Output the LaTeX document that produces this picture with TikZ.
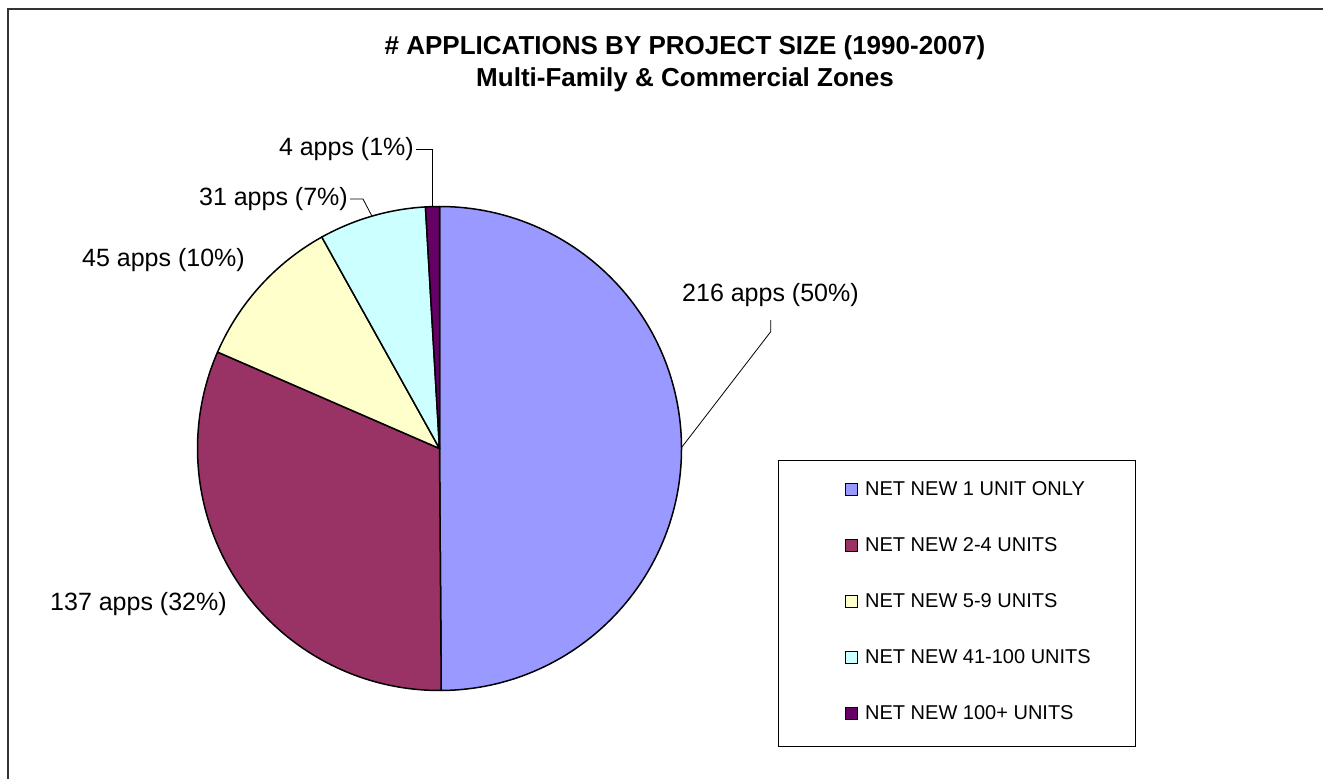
\documentclass[tikz,border=0pt]{standalone}
\usepackage{fontspec}
\setmainfont{Liberation Sans}
\definecolor{cA}{HTML}{9999FF}
\definecolor{cB}{HTML}{993366}
\definecolor{cC}{HTML}{FFFFCC}
\definecolor{cD}{HTML}{CCFFFF}
\definecolor{cE}{HTML}{660066}
\definecolor{frame}{HTML}{333333}
\tikzset{
  ttl/.style={font=\bfseries\fontsize{26}{30}\selectfont, inner sep=0pt},
  lbl/.style={font=\fontsize{25}{30}\selectfont, inner sep=0pt},
  leg/.style={font=\fontsize{20}{24}\selectfont, inner sep=0pt, anchor=west},
  sw/.style={draw=black, line width=1pt, minimum size=12pt, inner sep=0pt},
  slice/.style={draw=black, line width=1.5pt, line join=round},
  leader/.style={draw=black, line width=0.8pt},
}
\begin{document}
\begin{tikzpicture}[x=1pt,y=-1pt]
\useasboundingbox (0,0) rectangle (1323,779);
\fill[white] (0,0) rectangle (1323,779);
% outer chart frame (open to the right and bottom)
\draw[frame, line width=1.5pt] (8,779) -- (8,9) -- (1323,9);
% title
\node[ttl] (t1) at (685,48) {\# APPLICATIONS BY PROJECT SIZE (1990-2007)};
\node[ttl] (t2) at (685,80) {Multi-Family \& Commercial Zones};
% pie
\begin{scope}[shift={(439.5,448.5)}, yscale=-1]
  \draw[slice, fill=cA] (0,0) -- (90:242) arc[start angle=90, end angle=-89.584, radius=242] -- cycle;
  \draw[slice, fill=cB] (0,0) -- (-89.584:242) arc[start angle=-89.584, end angle=-203.487, radius=242] -- cycle;
  \draw[slice, fill=cC] (0,0) -- (-203.487:242) arc[start angle=-203.487, end angle=-240.900, radius=242] -- cycle;
  \draw[slice, fill=cD] (0,0) -- (-240.900:242) arc[start angle=-240.900, end angle=-266.674, radius=242] -- cycle;
  \draw[slice, fill=cE] (0,0) -- (-266.674:242) arc[start angle=-266.674, end angle=-270, radius=242] -- cycle;
  \coordinate (e1) at (0.208:242);
  \coordinate (e4) at (106.21:242);
  \coordinate (e5) at (91.663:242);
\end{scope}
% data labels
\node[lbl, anchor=west] (l1) at (682,295) {216 apps (50\%)};
\node[lbl, anchor=west] (l2) at (50,604) {137 apps (32\%)};
\node[lbl, anchor=west] (l3) at (82,260) {45 apps (10\%)};
\node[lbl, anchor=east] (l4) at (348,199) {31 apps (7\%)};
\node[lbl, anchor=east] (l5) at (414,149) {4 apps (1\%)};
% leader lines
\coordinate (k1a) at (770.7,320);
\coordinate (k1b) at (770.7,331.7);
\draw[leader] (k1a) -- (k1b) -- (e1);
\coordinate (k4) at (363,199);
\draw[leader] ([xshift=2pt]l4.east) -- (k4) -- (e4);
\coordinate (k5) at (e5 |- l5.east);
\draw[leader] ([xshift=2pt]l5.east) -- (k5) -- (e5);
% legend
\node[draw=black, line width=1pt, minimum width=357pt, minimum height=286pt, anchor=north west, inner sep=0pt] (legbox) at (778,460) {};
\node[sw, fill=cA] (s1) at (851,489) {};
\node[sw, fill=cB] (s2) at (851,545) {};
\node[sw, fill=cC] (s3) at (851,601) {};
\node[sw, fill=cD] (s4) at (851,657) {};
\node[sw, fill=cE] (s5) at (851,713) {};
\node[leg] (g1) at (865,489) {NET NEW 1 UNIT ONLY};
\node[leg] (g2) at (865,545) {NET NEW 2-4 UNITS};
\node[leg] (g3) at (865,601) {NET NEW 5-9 UNITS};
\node[leg] (g4) at (865,657) {NET NEW 41-100 UNITS};
\node[leg] (g5) at (865,713) {NET NEW 100+ UNITS};
\end{tikzpicture}
\end{document}
